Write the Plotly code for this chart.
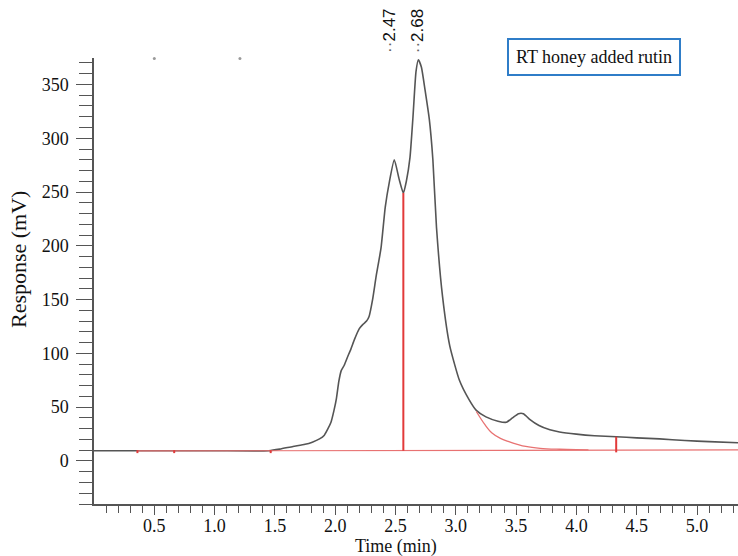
import plotly.graph_objects as go

# ---- data ----
time_min = [0.00, 0.50, 1.00, 1.45, 1.54, 1.65, 1.75, 1.81, 1.87, 1.91, 1.94, 1.965, 1.99,
            2.01, 2.03, 2.05, 2.075, 2.10, 2.13, 2.16, 2.20, 2.23, 2.26, 2.28, 2.31, 2.34,
            2.38, 2.415, 2.45, 2.49, 2.53, 2.565, 2.59, 2.62, 2.645, 2.67, 2.69, 2.715,
            2.745, 2.78, 2.81, 2.84, 2.89, 2.95, 3.03, 3.11, 3.17, 3.25, 3.35, 3.42, 3.47,
            3.52, 3.56, 3.61, 3.69, 3.78, 3.86, 4.00, 4.15, 4.33, 4.50, 4.69, 4.90, 5.10, 5.34]
response_mv = [9.5, 9.5, 9.5, 9.5, 11, 13.5, 15.5, 17.5, 20.5, 24, 30, 36, 47,
               58, 74, 84, 89, 96, 104, 113, 123, 127, 130, 134, 150, 172,
               198, 236, 260, 280, 262, 249, 260, 282, 320, 362, 373, 366,
               345, 318, 280, 217, 153, 107, 75, 57, 47, 41, 37, 36, 40,
               44, 44, 39, 33, 29, 27, 25, 23.5, 22.5, 21.5, 20.5, 19, 18, 17]

baseline_time = [0.36, 5.34]
baseline_mv = [9.3, 10.3]

tail_time = [3.17, 3.24, 3.30, 3.37, 3.44, 3.51, 3.58, 3.70, 3.86, 4.00, 4.10]
tail_mv = [46, 34, 26, 21, 18, 15.5, 13.5, 11.8, 10.9, 10.5, 10.4]

drop_time = 2.565
drop_top_mv = 249
end_mark_time = 4.33
end_mark_top_mv = 22.5
event_mark_times = [0.36, 0.665, 1.465]
peak_times = [2.47, 2.68]
peak_labels = ["2.47", "2.68"]
artifact_times = [0.5, 1.21]

x_tick_vals = [0.5, 1.0, 1.5, 2.0, 2.5, 3.0, 3.5, 4.0, 4.5, 5.0]
x_tick_text = ["0.5", "1.0", "1.5", "2.0", "2.5", "3.0", "3.5", "4.0", "4.5", "5.0"]
x_minor_vals = [round(i * 0.1, 1) for i in range(1, 54)]
y_tick_vals = [0, 50, 100, 150, 200, 250, 300, 350]
y_minor_vals = list(range(-40, 371, 10))

X_RANGE = [0, 5.34]
Y_RANGE = [-40, 374.6]

SERIF = "Liberation Serif"
SANS = "Liberation Sans"
GRAY = "#555555"
RED_LIGHT = "#e87272"
RED = "#e23a3a"

fig = go.Figure()

# chromatogram
fig.add_trace(go.Scatter(x=time_min, y=response_mv, mode="lines",
                         line=dict(color=GRAY, width=1.6, shape="spline", smoothing=0.5),
                         hoverinfo="skip"))
# integration baseline
fig.add_trace(go.Scatter(x=baseline_time, y=baseline_mv, mode="lines",
                         line=dict(color=RED_LIGHT, width=1.2), hoverinfo="skip"))
# tail fit
fig.add_trace(go.Scatter(x=tail_time, y=tail_mv, mode="lines",
                         line=dict(color=RED_LIGHT, width=1.3, shape="spline"),
                         hoverinfo="skip"))
# drop line at valley
fig.add_trace(go.Scatter(x=[drop_time, drop_time], y=[baseline_mv[0] + 0.3, drop_top_mv],
                         mode="lines", line=dict(color=RED, width=2), hoverinfo="skip"))
# end marker
fig.add_trace(go.Scatter(x=[end_mark_time, end_mark_time], y=[8, end_mark_top_mv],
                         mode="lines", line=dict(color=RED, width=2), hoverinfo="skip"))
# small event marks on baseline
ex, ey = [], []
for t in event_mark_times:
    ex += [t, t, None]
    ey += [7.3, 10.0, None]
fig.add_trace(go.Scatter(x=ex, y=ey, mode="lines",
                         line=dict(color=RED, width=2), hoverinfo="skip"))
# faint artifact dots at the top
fig.add_trace(go.Scatter(x=artifact_times, y=[Y_RANGE[1] - 0.5] * len(artifact_times),
                         mode="markers", marker=dict(color="#9a9a9a", size=3),
                         cliponaxis=False, hoverinfo="skip"))

annotations = []
for t, lab in zip(peak_times, peak_labels):
    annotations.append(dict(
        x=t, xref="x", y=1, yref="paper", yanchor="bottom", xanchor="center",
        yshift=3, xshift=-3 if lab == "2.47" else 0,
        text='<span style="color:#666">··</span>' + lab, textangle=-90,
        showarrow=False, font=dict(family=SANS, size=17, color="#111")))

annotations.append(dict(
    x=0.777, y=1.002, xref="paper", yref="paper", xanchor="center", yanchor="middle",
    text="RT honey added rutin", showarrow=False,
    font=dict(family=SERIF, size=18, color="#111"),
    bordercolor="#2f7dc8", borderwidth=2, borderpad=7, bgcolor="white"))

annotations.append(dict(
    x=0.469, y=-0.095, xref="paper", yref="paper", xanchor="center", yanchor="middle",
    text="Time (min)", showarrow=False, font=dict(family=SERIF, size=18, color="#111")))
annotations.append(dict(
    x=-0.118, y=0.547, xref="paper", yref="paper", xanchor="center", yanchor="middle",
    text="Response (mV)", textangle=-90, showarrow=False,
    font=dict(family=SERIF, size=22, color="#111")))

fig.update_layout(
    width=738, height=556,
    margin=dict(l=94, r=0, t=58, b=52),
    plot_bgcolor="white", paper_bgcolor="white",
    showlegend=False,
    annotations=annotations,
    font=dict(family=SERIF, size=18, color="#111"),
)
fig.update_xaxes(
    range=X_RANGE, showgrid=False, zeroline=False,
    showline=True, linecolor=GRAY, linewidth=1.5,
    tickmode="array", tickvals=x_tick_vals, ticktext=x_tick_text,
    ticks="outside", ticklen=9, tickwidth=1.3, tickcolor=GRAY,
    ticklabelstandoff=-4,
    minor=dict(tickmode="array", tickvals=x_minor_vals, ticks="outside",
               ticklen=7, tickwidth=1.3, tickcolor=GRAY, showgrid=False),
    tickfont=dict(family=SERIF, size=18, color="#111"),
)
fig.update_yaxes(
    range=Y_RANGE, showgrid=False, zeroline=False,
    showline=True, linecolor=GRAY, linewidth=1.5,
    tickmode="array", tickvals=y_tick_vals,
    ticks="outside", ticklen=16, tickwidth=1.3, tickcolor=GRAY,
    ticklabelstandoff=4,
    minor=dict(tickmode="array", tickvals=y_minor_vals, ticks="outside",
               ticklen=13, tickwidth=1.3, tickcolor=GRAY, showgrid=False),
    tickfont=dict(family=SERIF, size=18, color="#111"),
)

fig.write_html("out.html", config={"displayModeBar": False},
               post_script="document.body.style.margin='0';document.body.style.overflow='hidden';")
